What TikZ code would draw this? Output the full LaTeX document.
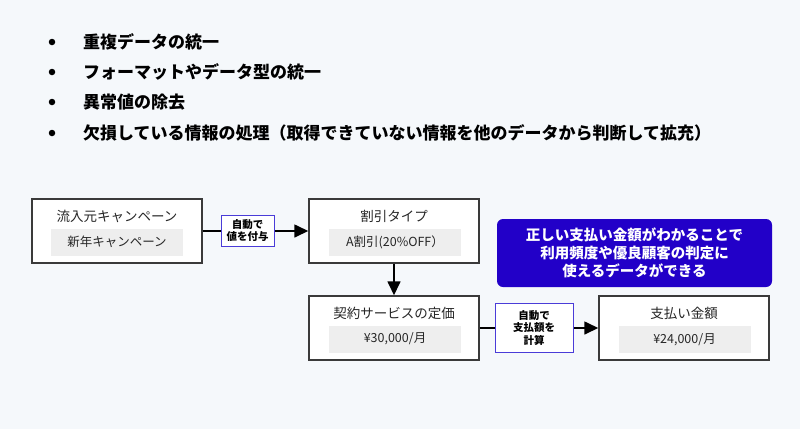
\documentclass[tikz,border=0pt]{standalone}
\usepackage{fontspec}
\setmainfont{Noto Sans CJK JP}
\usetikzlibrary{arrows.meta}
\definecolor{bg}{HTML}{F5F8FB}
\definecolor{boxline}{HTML}{3A3A3A}
\definecolor{valfill}{HTML}{EEEEEE}
\definecolor{lblline}{HTML}{4A3CD8}
\definecolor{note}{HTML}{2200C8}
\tikzset{
  mainbox/.style={draw=boxline, line width=1.2pt, fill=white, minimum width=170pt, minimum height=64pt, inner sep=0pt},
  titletext/.style={inner sep=0pt, font=\fontsize{13.5pt}{16pt}\selectfont, text=black!85},
  valbox/.style={fill=valfill, minimum width=132pt, minimum height=27pt, inner sep=0pt, font=\fontsize{12.5pt}{15pt}\selectfont, text=black!85},
  lbl/.style={draw=lblline, line width=1pt, fill=white, inner sep=0pt, align=center, font=\bfseries\fontsize{10.5pt}{12.5pt}\selectfont},
  conn/.style={line width=2.7pt, -{Triangle[length=14pt,width=12.5pt]}},
  bullettext/.style={anchor=west, inner sep=0pt, font=\bfseries\fontsize{17pt}{20pt}\selectfont},
  dot/.style={circle, fill=black, inner sep=0pt, minimum size=6.5pt},
}
\begin{document}
\begin{tikzpicture}[x=1pt,y=-1pt]
\fill[bg] (0,0) rectangle (800,429);
\useasboundingbox (0,0) rectangle (800,429);

\node[dot] (d1) at (52,42) {};
\node[bullettext] (t1) at (83,42) {重複データの統一};
\node[dot] (d2) at (52,72) {};
\node[bullettext] (t2) at (83,72) {フォーマットやデータ型の統一};
\node[dot] (d3) at (52,102) {};
\node[bullettext] (t3) at (83,102) {異常値の除去};
\node[dot] (d4) at (52,133) {};
\node[bullettext] (t4) at (83,133) {欠損している情報の処理（取得できていない情報を他のデータから判断して拡充）};

% boxes
\node[mainbox] (b1) at (117,231) {};
\node[titletext] (b1t) at (117,216) {流入元キャンペーン};
\node[valbox] (b1v) at (117,242) {新年キャンペーン};

\node[mainbox] (b2) at (394,231) {};
\node[titletext] (b2t) at (394,216) {割引タイプ};
\node[valbox] (b2v) at (395,242) {A割引(20\%OFF）};

\node[mainbox] (b3) at (394,328) {};
\node[titletext] (b3t) at (394,313) {契約サービスの定価};
\node[valbox] (b3v) at (395,339) {¥30,000/月};

\node[mainbox] (b4) at (684,328) {};
\node[titletext] (b4t) at (684,313) {支払い金額};
\node[valbox] (b4v) at (684.5,339.5) {¥24,000/月};

% connectors
\draw[conn] (b1.east) -- (b2.west);
\draw[conn] (b2.south) -- (b3.north);
\draw[conn] (b3.east) -- (b4.west);

\node[lbl, minimum width=53pt, minimum height=31pt] (l1) at (247.5,230.5) {自動で\\値を付与};
\node[lbl, minimum width=78pt, minimum height=49pt] (l2) at (534,327.5) {自動で\\支払額を\\計算};

% note
\node[fill=note, rounded corners=6pt, minimum width=275pt, minimum height=68pt, inner sep=0pt, align=center, text=white, font=\bfseries\fontsize{14.5pt}{18pt}\selectfont] (n) at (634.5,253) {正しい支払い金額がわかることで\\利用頻度や優良顧客の判定に\\使えるデータができる};
\end{tikzpicture}
\end{document}
